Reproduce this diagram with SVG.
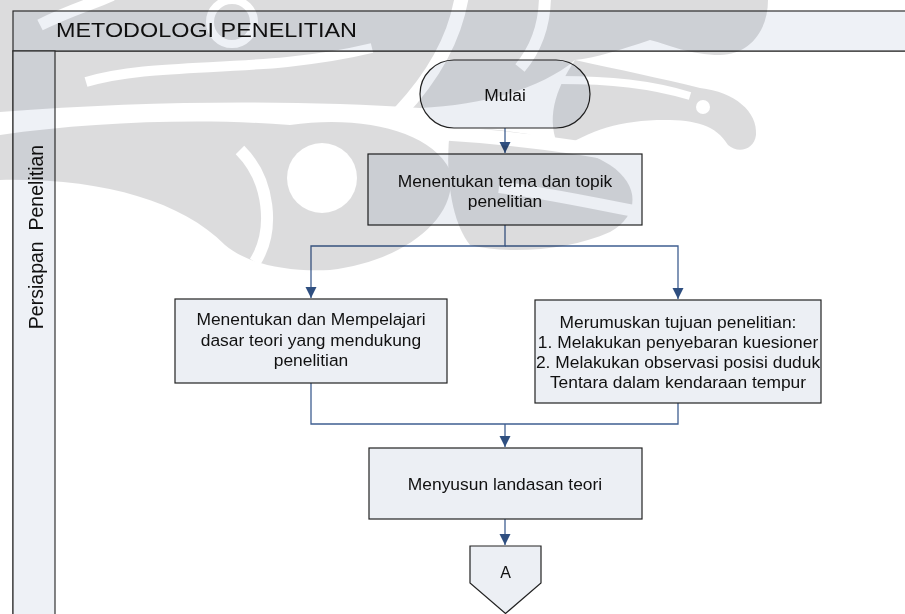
<svg xmlns="http://www.w3.org/2000/svg" width="905" height="614" viewBox="0 0 905 614">
<style>
.frame{fill:#eef1f6;stroke:#333;stroke-width:1.2}
.body{fill:#fff;stroke:#333;stroke-width:1.2}
.node{fill:#eceff4;stroke:#222;stroke-width:1.2}
.txt{font-family:"Liberation Sans",Arial,sans-serif;font-size:17.4px;fill:#111;text-anchor:middle}
.conn{fill:none;stroke:#3f5f91;stroke-width:1.3}
.cut{fill:none;stroke:#000}
</style>
<defs>
<marker id="arr" markerUnits="userSpaceOnUse" markerWidth="12" markerHeight="12" refX="11" refY="6" orient="auto">
<path d="M0,0.5 L11,6 L0,11.5 Z" fill="#2f4f80"/>
</marker>
<mask id="wm" maskUnits="userSpaceOnUse" x="0" y="0" width="905" height="614">
<path d="M0,0 H575 L575,60 C540,90 480,105 420,108 C300,100 150,100 0,112 Z" fill="#fff"/>
<path d="M0,135 C90,122 200,118 290,125 C360,115 430,130 450,170 C460,220 400,262 330,270 C280,272 245,262 225,245 C180,200 100,178 0,180 Z" fill="#fff"/>
<path d="M575,0 H768 C768,30 750,55 720,55 C690,55 670,45 650,40 C620,50 595,58 575,60 Z" fill="#fff"/>
<path d="M575,60 C620,70 660,78 700,88 C735,92 758,112 756,135 C754,150 738,154 728,145 C716,125 695,120 665,120 C620,120 590,130 560,150 C545,120 555,90 575,60 Z" fill="#fff"/>
<path d="M450,130 C510,125 570,140 610,165 C640,185 640,215 610,232 C570,250 510,255 470,245 C450,220 445,170 450,130 Z" fill="#fff"/>
<path class="cut" d="M40,25 C70,10 95,3 112,-5" stroke-width="12"/>
<path class="cut" d="M86,82 C160,60 260,75 372,48" stroke-width="10"/>
<circle class="cut" cx="232" cy="22" r="22" stroke-width="8"/>
<path class="cut" d="M462,-5 C455,40 430,80 400,112" stroke-width="14"/>
<path class="cut" d="M545,-5 C545,25 535,50 520,68" stroke-width="12"/>
<path class="cut" d="M560,80 C610,80 650,84 690,96" stroke-width="8"/>
<path class="cut" d="M438,133 C520,138 590,148 645,160" stroke-width="14"/>
<path class="cut" d="M499,187 C560,195 600,205 645,213" stroke-width="12"/>
<path class="cut" d="M240,150 C270,180 275,230 255,262" stroke-width="12"/>
<circle cx="322" cy="178" r="35" fill="#000"/>
<circle cx="703" cy="107" r="7" fill="#000"/>
</mask>
</defs>

<g id="swimlane">
<rect class="body" x="13" y="51" width="920" height="600"/>
<rect class="frame" x="13" y="11" width="920" height="40"/>
<rect class="frame" x="13" y="51" width="42" height="600"/>
<text x="56" y="37" font-family="Liberation Sans,Arial,sans-serif" font-size="20.5" fill="#111" textLength="301" lengthAdjust="spacingAndGlyphs">METODOLOGI PENELITIAN</text>
<text transform="translate(43,237) rotate(-90)" x="0" y="0" font-family="Liberation Sans,Arial,sans-serif" font-size="19.5" fill="#111" text-anchor="middle" xml:space="preserve">Persiapan  Penelitian</text>
</g>

<g id="connectors">
<path class="conn" d="M505,128 V153" marker-end="url(#arr)"/>
<path class="conn" d="M505,225 V246 H311 V298" marker-end="url(#arr)"/>
<path class="conn" d="M505,246 H678 V299" marker-end="url(#arr)"/>
<path class="conn" d="M311,383 V424 H678 V403"/>
<path class="conn" d="M505,424 V447" marker-end="url(#arr)"/>
<path class="conn" d="M505,519 V545" marker-end="url(#arr)"/>
</g>

<g id="mulai">
<rect class="node" x="420" y="60" width="170" height="68" rx="34" ry="34"/>
<text class="txt" x="505" y="100.5">Mulai</text>
</g>
<g id="tema">
<rect class="node" x="368" y="154" width="274" height="71"/>
<text class="txt" x="505" y="186.5">Menentukan tema dan topik</text>
<text class="txt" x="505" y="206.5">penelitian</text>
</g>
<g id="teori">
<rect class="node" x="175" y="299" width="272" height="84"/>
<text class="txt" x="311" y="325">Menentukan dan Mempelajari</text>
<text class="txt" x="311" y="345.5">dasar teori yang mendukung</text>
<text class="txt" x="311" y="366">penelitian</text>
</g>
<g id="tujuan">
<rect class="node" x="535" y="300" width="286" height="103"/>
<text class="txt" x="678" y="328">Merumuskan tujuan penelitian:</text>
<text class="txt" x="678" y="348">1. Melakukan penyebaran kuesioner</text>
<text class="txt" x="678" y="368">2. Melakukan observasi posisi duduk</text>
<text class="txt" x="678" y="388">Tentara dalam kendaraan tempur</text>
</g>
<g id="landasan">
<rect class="node" x="369" y="448" width="273" height="71"/>
<text class="txt" x="505" y="490">Menyusun landasan teori</text>
</g>
<g id="offpage-a">
<path class="node" d="M470,546 H541 V583 L505.5,613.5 L470,583 Z"/>
<text class="txt" x="505.5" y="578.3" style="font-size:16px">A</text>
</g>

<g id="watermark" style="mix-blend-mode:multiply" mask="url(#wm)">
<rect x="0" y="0" width="833" height="305" fill="#dcdcdd"/>
</g>
</svg>
